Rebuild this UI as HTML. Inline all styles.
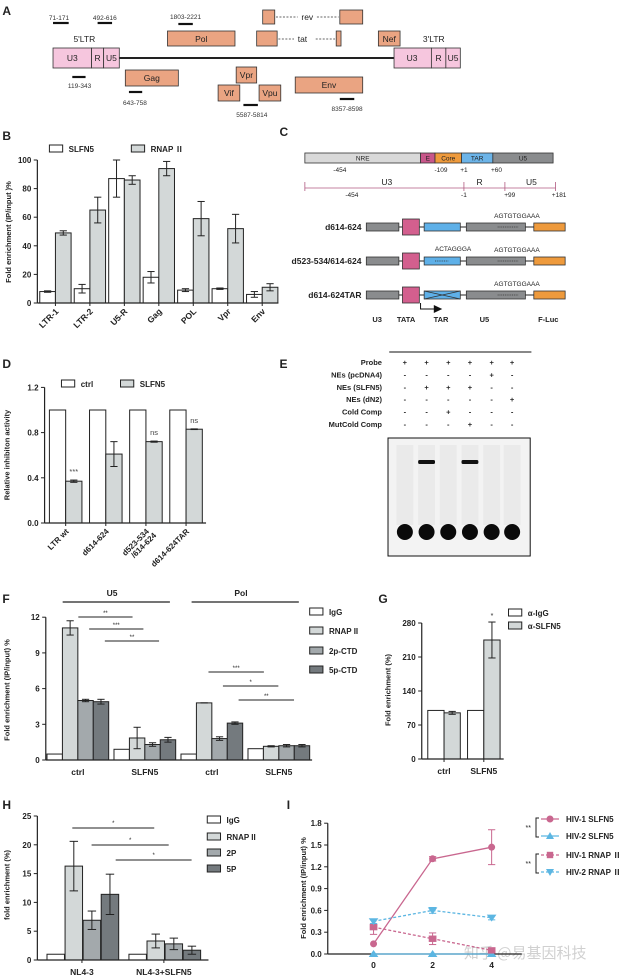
<!DOCTYPE html>
<html><head><meta charset="utf-8"><style>
html,body{margin:0;padding:0;background:#fff;}
svg{display:block;font-family:"Liberation Sans","Noto Sans CJK SC",sans-serif;}
</style></head><body>
<svg id="fig" width="629" height="978" viewBox="0 0 629 978" xmlns="http://www.w3.org/2000/svg">
<rect class="noscale" x="0" y="0" width="629" height="978" fill="#fff"/>
<!-- Panel A -->
<g font-size="7" fill="#222">
<text x="2" y="15" font-size="12" font-weight="bold">A</text>
<line x1="99" y1="58" x2="327" y2="58" stroke="#222" stroke-width="2"/>
<g stroke="#333" stroke-width="0.8" fill="#f6c6de">
<rect x="44" y="48" width="32" height="20"/>
<rect x="76" y="48" width="10" height="20"/>
<rect x="86" y="48" width="13" height="20"/>
<rect x="327" y="48" width="31" height="20"/>
<rect x="358" y="48" width="12" height="20"/>
<rect x="370" y="48" width="12" height="20"/>
</g>
<g font-size="8.5" text-anchor="middle">
<text x="60" y="61">U3</text>
<text x="81" y="61">R</text>
<text x="92.5" y="61">U5</text>
<text x="342" y="61">U3</text>
<text x="364" y="61">R</text>
<text x="376" y="61">U5</text>
<text x="70" y="42">5'LTR</text>
<text x="360" y="42">3'LTR</text>
</g>
<g stroke="#333" stroke-width="0.8" fill="#eaa482">
<rect x="139" y="31" width="56" height="15"/>
<rect x="104" y="70" width="44" height="16"/>
<rect x="196" y="67" width="17" height="16"/>
<rect x="181" y="85" width="18" height="16"/>
<rect x="215" y="85" width="18" height="16"/>
<rect x="245" y="77" width="56" height="16"/>
<rect x="314" y="31" width="18" height="15"/>
<rect x="218" y="10" width="10" height="14"/>
<rect x="282" y="10" width="19" height="14"/>
<rect x="213" y="31" width="17" height="15"/>
<rect x="279" y="31" width="4" height="15"/>
</g>
<g font-size="8.5" text-anchor="middle">
<text x="167" y="42">Pol</text>
<text x="126" y="81">Gag</text>
<text x="204.5" y="78">Vpr</text>
<text x="190" y="96">Vif</text>
<text x="224" y="96">Vpu</text>
<text x="273" y="88">Env</text>
<text x="323" y="42">Nef</text>
<text x="255" y="20">rev</text>
<text x="251" y="42">tat</text>
</g>
<g stroke="#333" stroke-width="0.8" stroke-dasharray="2,1.5">
<line x1="229" y1="17" x2="247" y2="17"/>
<line x1="263" y1="17" x2="281" y2="17"/>
<line x1="231" y1="39" x2="244" y2="39"/>
<line x1="262" y1="39" x2="278" y2="39"/>
</g>
<g stroke="#111" stroke-width="2.2">
<line x1="44" y1="23" x2="57" y2="23"/>
<line x1="81" y1="23" x2="93" y2="23"/>
<line x1="148" y1="24" x2="160" y2="24"/>
<line x1="60" y1="77" x2="71" y2="77"/>
<line x1="107" y1="92" x2="118" y2="92"/>
<line x1="202" y1="105" x2="214" y2="105"/>
<line x1="282" y1="99" x2="294" y2="99"/>
</g>
<g font-size="6.5" text-anchor="middle" fill="#333">
<text x="49" y="20">71-171</text>
<text x="87" y="20">492-616</text>
<text x="154" y="19">1803-2221</text>
<text x="66" y="88">119-343</text>
<text x="112" y="105">643-758</text>
<text x="209" y="117">5587-5814</text>
<text x="288" y="111">8357-8598</text>
</g>
</g>
<!-- Panel C -->
<g fill="#222">
<text x="232" y="136" font-size="12" font-weight="bold">C</text>
<g stroke="#333" stroke-width="0.8">
<rect x="253" y="153" width="96" height="10" fill="#d9d9d9"/>
<rect x="349" y="153" width="12" height="10" fill="#c8578a"/>
<rect x="361" y="153" width="22" height="10" fill="#ee9a3c"/>
<rect x="383" y="153" width="26" height="10" fill="#6cb4e8"/>
<rect x="409" y="153" width="50" height="10" fill="#8a8c8e"/>
</g>
<g font-size="6.5" text-anchor="middle">
<text x="301" y="160.5">NRE</text>
<text x="355" y="160.5">E</text>
<text x="372" y="160.5">Core</text>
<text x="396" y="160.5">TAR</text>
<text x="434" y="160.5">U5</text>
<text x="282" y="172">-454</text>
<text x="366" y="172">-109</text>
<text x="385" y="172">+1</text>
<text x="412" y="172">+60</text>
<text x="292" y="197">-454</text>
<text x="385" y="197">-1</text>
<text x="423" y="197">+99</text>
<text x="464" y="197">+181</text>
</g>
<g stroke="#b05a80" stroke-width="0.8">
<line x1="253" y1="188" x2="461" y2="188"/>
<line x1="253" y1="182" x2="253" y2="191"/>
<line x1="385" y1="182" x2="385" y2="191"/>
<line x1="419" y1="182" x2="419" y2="191"/>
<line x1="461" y1="182" x2="461" y2="191"/>
</g>
<g font-size="8.5" text-anchor="middle">
<text x="321" y="185">U3</text>
<text x="398" y="185">R</text>
<text x="441" y="185">U5</text>
</g>
<g id="constructs"></g>
<g font-size="7.5" font-weight="bold" text-anchor="middle">
<text x="313" y="322">U3</text>
<text x="337" y="322">TATA</text>
<text x="366" y="322">TAR</text>
<text x="402" y="322">U5</text>
<text x="455" y="322">F-Luc</text>
</g>
<path d="M349 303 L349 309 L362 309" fill="none" stroke="#111" stroke-width="1"/>
<path d="M360 305 L367 309 L360 313 Z" fill="#111"/>
</g>
<!-- Panel E -->
<g fill="#222">
<text x="232" y="368" font-size="12" font-weight="bold">E</text>
<line x1="323" y1="352" x2="441" y2="352" stroke="#111" stroke-width="1"/>
<g id="emsarows" font-size="7.5" font-weight="bold"></g>
<rect x="322" y="438" width="118" height="118" fill="#f3f3f3" stroke="#111" stroke-width="1"/>
<g id="gel"></g>
</g>
<text x="385" y="958" font-size="15" fill="#c8c8c8" opacity="0.85" font-family="'Noto Sans CJK SC',sans-serif">知乎 @易基因科技</text>
</svg>
<script>
// ---------- DATA ----------
const bCategories = ["LTR-1","LTR-2","U5-R","Gag","POL","Vpr","Env"];
const bSlfn5 = [8,10,87,18,9,10,6];
const bSlfn5Err = [0.5,3,13,4,1,0.5,2];
const bRnap = [49,65,86,94,59,52,11];
const bRnapErr = [1.5,9,3,5,12,10,2.5];
const bTicks = [0,20,40,60,80,100];

const dCategories = ["LTR wt","d614-624","d523-534\n/614-624","d614-624TAR"];
const dCtrl = [1,1,1,1];
const dSlfn5 = [0.37,0.61,0.72,0.83];
const dSlfn5Err = [0.01,0.11,0.005,0.003];
const dSig = ["***","","ns","ns"];
const dTicks = [0,0.4,0.8,1.2];

const fGroups = ["ctrl","SLFN5","ctrl","SLFN5"];
const fSeries = ["IgG","RNAP II","2p-CTD","5p-CTD"];
const fIgG = [0.5,0.9,0.5,0.95];
const fRnap = [11.1,1.85,4.8,1.15];
const fP2 = [5.0,1.3,1.8,1.2];
const fP5 = [4.9,1.7,3.1,1.2];
const fRnapErr = [0.6,0.9,0,0.05];
const fP2Err = [0.1,0.15,0.15,0.1];
const fP5Err = [0.2,0.2,0.1,0.1];
const fTicks = [0,3,6,9,12];

const gGroups = ["ctrl","SLFN5"];
const gIgG = [100,100];
const gSlfn5 = [95,245];
const gSlfn5Err = [3,37];
const gTicks = [0,70,140,210,280];

const hGroups = ["NL4-3","NL4-3+SLFN5"];
const hIgG = [1,1];
const hRnap = [16.3,3.3];
const hP2 = [6.9,2.8];
const hP5 = [11.4,1.7];
const hRnapErr = [4.3,1.2];
const hP2Err = [1.6,1.0];
const hP5Err = [3.5,0.7];
const hTicks = [0,5,10,15,20,25];

const iX = [0,2,4];
const iHiv1Slfn5 = [0.14,1.31,1.47];
const iHiv1Slfn5Err = [0,0.03,0.24];
const iHiv2Slfn5 = [0,0,0];
const iHiv1Rnap = [0.37,0.21,0.05];
const iHiv1RnapErr = [0.1,0.08,0];
const iHiv2Rnap = [0.45,0.6,0.5];
const iHiv2RnapErr = [0.03,0.04,0.03];
const iTicks = [0,0.3,0.6,0.9,1.2,1.5,1.8];

// ---------- HELPERS ----------
const NS="http://www.w3.org/2000/svg";
const svg=document.getElementById('fig');
let NOSC=false;
function mk(tag,attrs,name,parent){
  const el=document.createElementNS(NS,tag);
  for(const k in attrs) el.setAttribute(k,attrs[k]);
  
  
  if(NOSC) el.setAttribute('class','noscale');
  (parent||svg).appendChild(el);
  return el;
}
function txt(x,y,s,attrs,name,parent){
  const a=Object.assign({x:x,y:y,fill:'#222'},attrs||{});
  const el=mk('text',a,name,parent);
  el.textContent=s;
  return el;
}
function line(x1,y1,x2,y2,name,extra){
  return mk('line',Object.assign({x1,y1,x2,y2,stroke:'#222','stroke-width':1},extra||{}),name);
}
function errbar(x,yTop,yBot,name,w){
  w=w||3;
  line(x,yTop,x,yBot,name,{'stroke-width':1});
  line(x-w,yTop,x+w,yTop,name+'-cap-top');
  line(x-w,yBot,x+w,yBot,name+'-cap-bottom');
}
function yAxis(ax,y0,ppu,ticks,name,fmt,fs){
  const top=y0-ticks[ticks.length-1]*ppu;
  line(ax,y0,ax,top,name,{'stroke-width':1.2});
  ticks.forEach(t=>{
    const y=y0-t*ppu;
    line(ax-3,y,ax,y,name+'-tick');
    txt(ax-5,y+3,fmt?fmt(t):String(t),{'font-size':fs||8,'font-weight':'bold','text-anchor':'end'},name+'-tick-label');
  });
}
function ylabel(x,y,s,name,fs){
  txt(x,y,s,{'font-size':fs||7.5,'font-weight':'bold','text-anchor':'middle',transform:`rotate(-90 ${x} ${y})`},name);
}
function bar(x,w,y0,v,ppu,fill,name){
  return mk('rect',{x:x,y:y0-v*ppu,width:w,height:v*ppu,fill:fill,stroke:'#222','stroke-width':1},name);
}
function legendBox(x,y,fill,label,name,fs){
  mk('rect',{x:x,y:y-7,width:11,height:7,fill:fill,stroke:'#222','stroke-width':1},name+'-swatch');
  txt(x+16,y,label,{'font-size':fs||8,'font-weight':'bold'},name+'-label');
}
const WHITE='#ffffff', LG='#d3d8d8', MG='#a3a9ac', DG='#747a7e';

// ---------- PANEL B ----------
(function(){
  txt(2,140,'B',{'font-size':12,'font-weight':'bold'},'panel-b-label');
  const ax=31,y0=303,ppu=1.43,gx0=33,gs=28.6,bw=13;
  bCategories.forEach((c,i)=>{
    const x=gx0+gs*i;
    bar(x,bw,y0,bSlfn5[i],ppu,WHITE,'bar-slfn5-'+c);
    errbar(x+bw/2,y0-(bSlfn5[i]+bSlfn5Err[i])*ppu,y0-(bSlfn5[i]-bSlfn5Err[i])*ppu,'err-slfn5-'+c);
    bar(x+bw,bw,y0,bRnap[i],ppu,LG,'bar-rnap-'+c);
    errbar(x+bw*1.5,y0-(bRnap[i]+bRnapErr[i])*ppu,y0-(bRnap[i]-bRnapErr[i])*ppu,'err-rnap-'+c);
    line(x+bw,y0,x+bw,y0+3,'x-tick');
    const lx=x+bw+3, ly=y0+9;
    txt(lx,ly,c,{'font-size':8.5,'font-weight':'bold','text-anchor':'end',transform:`rotate(-45 ${lx} ${ly})`},'x-label-'+c);
  });
  line(ax,y0,231,y0,'x-axis',{'stroke-width':1.2});
  yAxis(ax,y0,ppu,bTicks,'y-axis');
  ylabel(9,232,'Fold enrichment (IP/input )%','y-axis-title');
  legendBox(41,152,WHITE,'SLFN5','legend-slfn5');
  legendBox(109,152,LG,'RNAP Ⅱ','legend-rnap');
})();

// ---------- PANEL C constructs ----------
(function(){
  const g=document.getElementById('constructs');
  const rows=[{n:'d614-624',y:227,tar:'n'},{n:'d523-534/614-624',y:261,tar:'d'},{n:'d614-624TAR',y:295,tar:'x'}];
  rows.forEach(r=>{
    txt(300,r.y+3,r.n,{'font-size':8.5,'font-weight':'bold','text-anchor':'end'},'construct-label-'+r.n,g);
    mk('line',{x1:331,y1:r.y,x2:443,y2:r.y,stroke:'#222','stroke-width':1},'construct-line',g);
    mk('rect',{x:304,y:r.y-4,width:27,height:8,fill:'#8a8c8e',stroke:'#333','stroke-width':0.8},'u3-block',g);
    mk('rect',{x:334,y:r.y-8,width:14,height:16,fill:'#d35f8e',stroke:'#333','stroke-width':0.8},'tata-block',g);
    mk('rect',{x:352,y:r.y-4,width:30,height:8,fill:'#5eb0e8',stroke:'#333','stroke-width':0.8},'tar-block',g);
    mk('rect',{x:387,y:r.y-4,width:49,height:8,fill:'#8a8c8e',stroke:'#333','stroke-width':0.8},'u5-block',g);
    mk('rect',{x:443,y:r.y-4,width:26,height:8,fill:'#ee9a3c',stroke:'#333','stroke-width':0.8},'fluc-block',g);
    mk('line',{x1:413,y1:r.y,x2:430,y2:r.y,stroke:'#333','stroke-width':0.8,'stroke-dasharray':'1,0.8'},'u5-deletion-mark',g);
    txt(429,r.y-9,'AGTGTGGAAA',{'font-size':6.5,'text-anchor':'middle'},'u5-sequence',g);
    if(r.tar==='d'){
      mk('line',{x1:361,y1:r.y,x2:372,y2:r.y,stroke:'#333','stroke-width':0.8,'stroke-dasharray':'1,0.8'},'tar-deletion-mark',g);
      txt(376,r.y-10,'ACTAGGGA',{'font-size':6.5,'text-anchor':'middle'},'tar-sequence',g);
    }
    if(r.tar==='x'){
      mk('path',{d:`M352 ${r.y-4} L382 ${r.y+4} M352 ${r.y+4} L382 ${r.y-4}`,stroke:'#333','stroke-width':0.8,fill:'none'},'tar-deleted-cross',g);
    }
  });
})();

// ---------- PANEL D ----------
(function(){
  txt(2,368,'D',{'font-size':12,'font-weight':'bold'},'panel-d-label');
  const ax=37,y0=523,ppu=113,gx0=41,gs=33.3,bw=13.5;
  dCategories.forEach((c,i)=>{
    const x=gx0+gs*i;
    bar(x,bw,y0,dCtrl[i],ppu,WHITE,'bar-ctrl-'+i);
    bar(x+bw,bw,y0,dSlfn5[i],ppu,LG,'bar-slfn5-'+i);
    errbar(x+bw*1.5,y0-(dSlfn5[i]+dSlfn5Err[i])*ppu,y0-(dSlfn5[i]-dSlfn5Err[i])*ppu,'err-slfn5-'+i);
    if(dSig[i]) txt(x+bw*1.5,y0-(dSlfn5[i]+dSlfn5Err[i])*ppu-6,dSig[i],{'font-size':7.5,'text-anchor':'middle',fill:'#444'},'sig-'+i);
    line(x+bw,y0,x+bw,y0+3,'x-tick');
    const parts=c.split('\n');
    parts.forEach((p,k)=>{
      const lx=x+bw+3+k*6, ly=y0+9+k*4;
      txt(lx,ly,p,{'font-size':8,'font-weight':'bold','text-anchor':'end',transform:`rotate(-45 ${lx} ${ly})`},'x-label-'+i);
    });
  });
  line(ax,y0,171,y0,'x-axis',{'stroke-width':1.2});
  yAxis(ax,y0,ppu,dTicks,'y-axis',t=>t.toFixed(1));
  ylabel(8,455,'Relative inhibiton activity','y-axis-title');
  legendBox(51,387,WHITE,'ctrl','legend-ctrl');
  legendBox(100,387,LG,'SLFN5','legend-slfn5');
})();

// ---------- PANEL E ----------
(function(){
  const g=document.getElementById('emsarows');
  const labels=['Probe','NEs (pcDNA4)','NEs (SLFN5)','NEs (dN2)','Cold Comp','MutCold Comp'];
  const marks=[['+','+','+','+','+','+'],['-','-','-','-','+','-'],['-','+','+','+','-','-'],['-','-','-','-','-','+'],['-','-','+','-','-','-'],['-','-','-','+','-','-']];
  const cols=[336,354,372,390,408,425];
  labels.forEach((l,r)=>{
    const y=363+r*12.4;
    txt(317,y+2,l,{'text-anchor':'end'},'emsa-row-label',g);
    cols.forEach((cx,c)=>{
      txt(cx,y+2,marks[r][c],{'text-anchor':'middle'},'emsa-mark',g);
    });
  });
  const gel=document.getElementById('gel');
  cols.forEach((cx,c)=>{
    mk('rect',{x:cx-7,y:445,width:14,height:80,fill:'#e4e4e4',opacity:0.6},'gel-lane-smear',gel);
    mk('ellipse',{cx:cx,cy:532,rx:8,ry:8,fill:'#0a0a0a'},'free-probe-band',gel);
  });
  [1,3].forEach(c=>{
    mk('rect',{x:cols[c]-7,y:460,width:14,height:4,fill:'#111',rx:1.5},'shifted-band',gel);
  });
})();

// ---------- PANEL F ----------
(function(){
  txt(2,603,'F',{'font-size':12,'font-weight':'bold'},'panel-f-label');
  const ax=38,y0=760,ppu=35.7/3,gx0=39,gs=55.6,bw=12.8;
  const vals=[fIgG,fRnap,fP2,fP5], errs=[null,fRnapErr,fP2Err,fP5Err], fills=[WHITE,LG,MG,DG];
  fGroups.forEach((gname,i)=>{
    const x=gx0+gs*i;
    vals.forEach((arr,s)=>{
      const bx=x+s*bw;
      bar(bx,bw,y0,arr[i],ppu,fills[s],'bar-'+fSeries[s]+'-'+i);
      if(errs[s]){
        const e=errs[s][i];
        errbar(bx+bw/2,y0-(arr[i]+e)*ppu,y0-(arr[i]-e)*ppu,'err-'+fSeries[s]+'-'+i,3);
      }
    });
    txt(x+2*bw,y0+15,gname,{'font-size':8.5,'font-weight':'bold','text-anchor':'middle'},'x-label-'+i);
  });
  line(ax,y0,259,y0,'x-axis',{'stroke-width':1.2});
  yAxis(ax,y0,ppu,fTicks,'y-axis');
  ylabel(8,690,'Fold enrichment (IP/input) %','y-axis-title');
  txt(93,596,'U5',{'font-size':8.5,'font-weight':'bold','text-anchor':'middle'},'u5-group-title');
  line(52,602,141,602,'u5-group-line',{'stroke-width':1.2});
  txt(200,596,'Pol',{'font-size':8.5,'font-weight':'bold','text-anchor':'middle'},'pol-group-title');
  line(159,602,248,602,'pol-group-line',{'stroke-width':1.2});
  const sig=[[65,110,617,'**'],[74,119,629,'***'],[87,132,641,'**'],[173,219,672,'***'],[185,231,686,'*'],[198,244,700,'**']];
  sig.forEach((s,k)=>{line(s[0],s[2],s[1],s[2],'sig-line-'+k);txt((s[0]+s[1])/2,s[2]-2,s[3],{'font-size':6,'text-anchor':'middle'},'sig-star-'+k);});
  const ly=[615,634,654,673];
  fSeries.forEach((n,s)=>legendBox(257,ly[s],fills[s],n,'legend-'+n));
})();

// ---------- PANEL G ----------
(function(){
  txt(314,603,'G',{'font-size':12,'font-weight':'bold'},'panel-g-label');
  const ax=350,y0=759,ppu=34/70,gx0=355,gs=33,bw=13.5;
  gGroups.forEach((gname,i)=>{
    const x=gx0+gs*i;
    bar(x,bw,y0,gIgG[i],ppu,WHITE,'bar-igg-'+gname);
    bar(x+bw,bw,y0,gSlfn5[i],ppu,LG,'bar-slfn5-'+gname);
    errbar(x+bw*1.5,y0-(gSlfn5[i]+gSlfn5Err[i])*ppu,y0-(gSlfn5[i]-gSlfn5Err[i])*ppu,'err-slfn5-'+gname);
    line(x+bw,y0,x+bw,y0+3,'x-tick');
    txt(x+bw,y0+15,gname,{'font-size':8.5,'font-weight':'bold','text-anchor':'middle'},'x-label-'+gname);
  });
  txt(gx0+gs+bw*1.5,y0-(gSlfn5[1]+gSlfn5Err[1])*ppu-4,'*',{'font-size':7,'text-anchor':'middle'},'sig-star');
  line(ax,y0,418,y0,'x-axis',{'stroke-width':1.2});
  yAxis(ax,y0,ppu,gTicks,'y-axis');
  ylabel(324,690,'Fold enrichment (%)','y-axis-title');
  legendBox(422,616,WHITE,'α-IgG','legend-igg');
  legendBox(422,629,LG,'α-SLFN5','legend-slfn5');
})();

// ---------- PANEL H ----------
(function(){
  txt(2,809,'H',{'font-size':12,'font-weight':'bold'},'panel-h-label');
  const ax=31,y0=960,ppu=28.8/5,gx0=39,gs=68,bw=14.5;
  const names=['IgG','RNAP II','2P','5P'];
  const vals=[hIgG,hRnap,hP2,hP5], errs=[null,hRnapErr,hP2Err,hP5Err], fills=[WHITE,LG,MG,DG];
  hGroups.forEach((gname,i)=>{
    const x=gx0+gs*i;
    vals.forEach((arr,s)=>{
      const bx=x+s*(bw+0.5);
      bar(bx,bw,y0,arr[i],ppu,fills[s],'bar-'+names[s]+'-'+i);
      if(errs[s]){
        const e=errs[s][i];
        errbar(bx+bw/2,y0-(arr[i]+e)*ppu,y0-(arr[i]-e)*ppu,'err-'+names[s]+'-'+i,3.5);
      }
    });
    line(x+2*bw,y0,x+2*bw,y0+3,'x-tick');
    txt(x+2*bw,y0+15,gname,{'font-size':8.5,'font-weight':'bold','text-anchor':'middle'},'x-label-'+i);
  });
  line(ax,y0,173,y0,'x-axis',{'stroke-width':1.2});
  yAxis(ax,y0,ppu,hTicks,'y-axis');
  ylabel(8,885,'fold enrichment (%)','y-axis-title');
  const sig=[[60,128,828],[76,140,845],[96,159,860]];
  sig.forEach((s,k)=>{line(s[0],s[2],s[1],s[2],'sig-line-'+k);txt((s[0]+s[1])/2,s[2]-3,'*',{'font-size':6,'text-anchor':'middle'},'sig-star-'+k);});
  const ly=[823,840,856,872];
  names.forEach((n,s)=>legendBox(172,ly[s],fills[s],n,'legend-'+n));
})();

// ---------- PANEL I ----------
(function(){
  txt(238,809,'I',{'font-size':12,'font-weight':'bold'},'panel-i-label');
  const ax=272,y0=954,ppy=21.8/0.3,x0=310,ppx=24.5;
  const X=v=>x0+v*ppx, Y=v=>y0-v*ppy;
  line(ax,y0,433,y0,'x-axis',{'stroke-width':1.2});
  yAxis(ax,y0,ppy,iTicks,'y-axis',t=>t.toFixed(1));
  iX.forEach(v=>{line(X(v),y0,X(v),y0+3,'x-tick');txt(X(v),y0+14,String(v),{'font-size':8.5,'font-weight':'bold','text-anchor':'middle'},'x-tick-label');});
  ylabel(254,888,'Fold enrichment (IP/input) %','y-axis-title');
  const PINK='#c9678f', BLUE='#5cb6e2';
  const series=[
    {n:'HIV-1 SLFN5',v:iHiv1Slfn5,e:iHiv1Slfn5Err,c:PINK,d:null,m:'circle'},
    {n:'HIV-2 SLFN5',v:iHiv2Slfn5,e:null,c:BLUE,d:null,m:'tri'},
    {n:'HIV-1 RNAP Ⅱ',v:iHiv1Rnap,e:iHiv1RnapErr,c:PINK,d:'3,2',m:'square'},
    {n:'HIV-2 RNAP Ⅱ',v:iHiv2Rnap,e:iHiv2RnapErr,c:BLUE,d:'3,2',m:'itri'}];
  function marker(type,x,y,c,name){
    if(type==='circle') mk('circle',{cx:x,cy:y,r:3.5,fill:c},name);
    else if(type==='square') mk('rect',{x:x-3.2,y:y-3.2,width:6.4,height:6.4,fill:c},name);
    else if(type==='tri') mk('path',{d:`M${x} ${y-4} L${x+4} ${y+3} L${x-4} ${y+3} Z`,fill:c},name);
    else mk('path',{d:`M${x} ${y+4} L${x+4} ${y-3} L${x-4} ${y-3} Z`,fill:c},name);
  }
  series.forEach((s,k)=>{
    const pts=iX.map((xv,i)=>X(xv)+','+Y(s.v[i])).join(' ');
    const a={points:pts,fill:'none',stroke:s.c,'stroke-width':1.3};
    if(s.d) a['stroke-dasharray']=s.d;
    mk('polyline',a,'line-'+s.n);
    iX.forEach((xv,i)=>{
      if(s.e && s.e[i]>0){
        const x=X(xv);
        mk('line',{x1:x,y1:Y(s.v[i]+s.e[i]),x2:x,y2:Y(s.v[i]-s.e[i]),stroke:s.c,'stroke-width':1},'err-'+s.n);
        mk('line',{x1:x-3,y1:Y(s.v[i]+s.e[i]),x2:x+3,y2:Y(s.v[i]+s.e[i]),stroke:s.c,'stroke-width':1},'err-cap-'+s.n);
        mk('line',{x1:x-3,y1:Y(s.v[i]-s.e[i]),x2:x+3,y2:Y(s.v[i]-s.e[i]),stroke:s.c,'stroke-width':1},'err-cap-'+s.n);
      }
      marker(s.m,X(xv),Y(s.v[i]),s.c,'point-'+s.n);
    });
  });
  NOSC=true;
  series.forEach((s,k)=>{
    const ly=[819,836,855,872][k];
    const la={x1:541,y1:ly,x2:559,y2:ly,stroke:s.c,'stroke-width':1.3};
    if(s.d) la['stroke-dasharray']=s.d;
    mk('line',la,'legend-line-'+s.n);
    marker(s.m,550,ly,s.c,'legend-marker-'+s.n);
    txt(566,ly+3,s.n,{'font-size':8,'font-weight':'bold'},'legend-label-'+s.n);
  });
  mk('path',{d:'M539 818 L536 818 L536 837 L539 837',fill:'none',stroke:'#222','stroke-width':1},'legend-bracket-1');
  mk('path',{d:'M539 854 L536 854 L536 873 L539 873',fill:'none',stroke:'#222','stroke-width':1},'legend-bracket-2');
  txt(531,830,'**',{'font-size':7,'text-anchor':'end'},'legend-sig-1');
  txt(531,866,'**',{'font-size':7,'text-anchor':'end'},'legend-sig-2');
  NOSC=false;
})();

// ---------- horizontal layout scaling ----------
(function(){
  const SX=1.205;
  document.querySelectorAll('#fig *').forEach(el=>{
    if(el.classList && el.classList.contains('noscale')) return;
    ['x','x1','x2','cx'].forEach(a=>{ if(el.hasAttribute(a)) el.setAttribute(a,(+el.getAttribute(a))*SX); });
    if(el.tagName==='rect' && el.hasAttribute('width')) el.setAttribute('width',(+el.getAttribute('width'))*SX);
    if(el.tagName==='polyline'){
      el.setAttribute('points',el.getAttribute('points').trim().split(/\s+/).map(p=>{const q=p.split(',');return (+q[0])*SX+','+q[1];}).join(' '));
    }
    if(el.tagName==='path'){
      el.setAttribute('d',el.getAttribute('d').replace(/(-?[\d.]+)[\s,]+(-?[\d.]+)/g,(m,a,b)=>((+a)*SX)+' '+b));
    }
    if(el.hasAttribute('transform')){
      el.setAttribute('transform',el.getAttribute('transform').replace(/rotate\(([-\d.]+)\s+([-\d.]+)\s+([-\d.]+)\)/,(m,a,x,y)=>`rotate(${a} ${(+x)*SX} ${y})`));
    }
  });
})();
</script>
</body></html>
